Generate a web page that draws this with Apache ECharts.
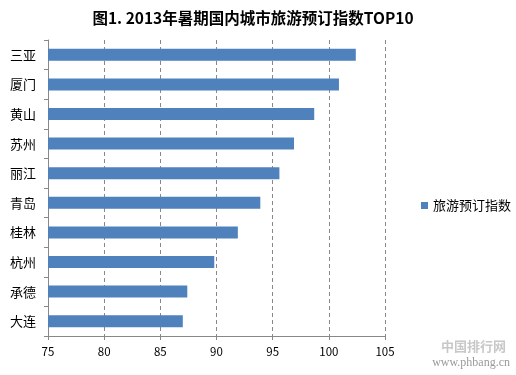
<!DOCTYPE html>
<html>
<head>
<meta charset="utf-8">
<script src="https://cdn.jsdelivr.net/npm/echarts@6/dist/echarts.min.js"></script>
<style>
  html, body { margin: 0; padding: 0; background: #fff; }
  #chart { width: 516px; height: 375px; }
</style>
</head>
<body>
<div id="chart"></div>
<script>
// 城市 & 旅游预订指数
var cities = ["三亚", "厦门", "黄山", "苏州", "丽江", "青岛", "桂林", "杭州", "承德", "大连"];
var indexValues = [102.4, 100.9, 98.7, 96.9, 95.6, 93.9, 91.9, 89.8, 87.4, 87.0];
var seriesName = "旅游预订指数";
var titleText = "图1. 2013年暑期国内城市旅游预订指数TOP10";

var myChart = echarts.init(document.getElementById("chart"));
var font = "'Noto Sans CJK SC', sans-serif";
var option = {
  animation: false,
  textStyle: { fontFamily: font },
  title: {
    text: titleText,
    left: 248,
    textAlign: "center",
    top: 5,
    textStyle: { fontSize: 15.5, fontWeight: "bold", color: "#000", fontFamily: font }
  },
  legend: {
    data: [seriesName],
    left: 416,
    top: 194,
    itemWidth: 7,
    itemHeight: 7,
    itemGap: 4,
    icon: "rect",
    textStyle: { fontSize: 13, color: "#000", fontFamily: font }
  },
  grid: { left: 48, right: 131, top: 40, bottom: 39 },
  xAxis: {
    type: "value",
    min: 75,
    max: 105,
    interval: 5,
    axisLine: { show: true, lineStyle: { color: "#888" } },
    axisTick: { show: true, length: 4, lineStyle: { color: "#888" } },
    axisLabel: { fontSize: 11.5, color: "#000", margin: 10 },
    splitLine: { show: true, lineStyle: { color: "#888", type: [4, 3] } }
  },
  yAxis: {
    type: "category",
    data: cities,
    inverse: true,
    axisLine: { show: true, lineStyle: { color: "#888" } },
    axisTick: { show: true, length: 4, lineStyle: { color: "#888" } },
    axisLabel: { fontSize: 13, color: "#000", margin: 12 }
  },
  series: [{
    name: seriesName,
    type: "bar",
    data: indexValues,
    barWidth: 12,
    itemStyle: { color: "#4f81bd" }
  }],
  graphic: [
    { type: "text", right: 10, bottom: 22,
      style: { text: "中国排行网", fill: "#c8c8c8", font: "bold 13px " + font } },
    { type: "text", right: 6, bottom: 6,
      style: { text: "www.phbang.cn", fill: "#9a9a9a", font: "12px 'Liberation Serif', serif" } }
  ]
};
myChart.setOption(option);
</script>
</body>
</html>
